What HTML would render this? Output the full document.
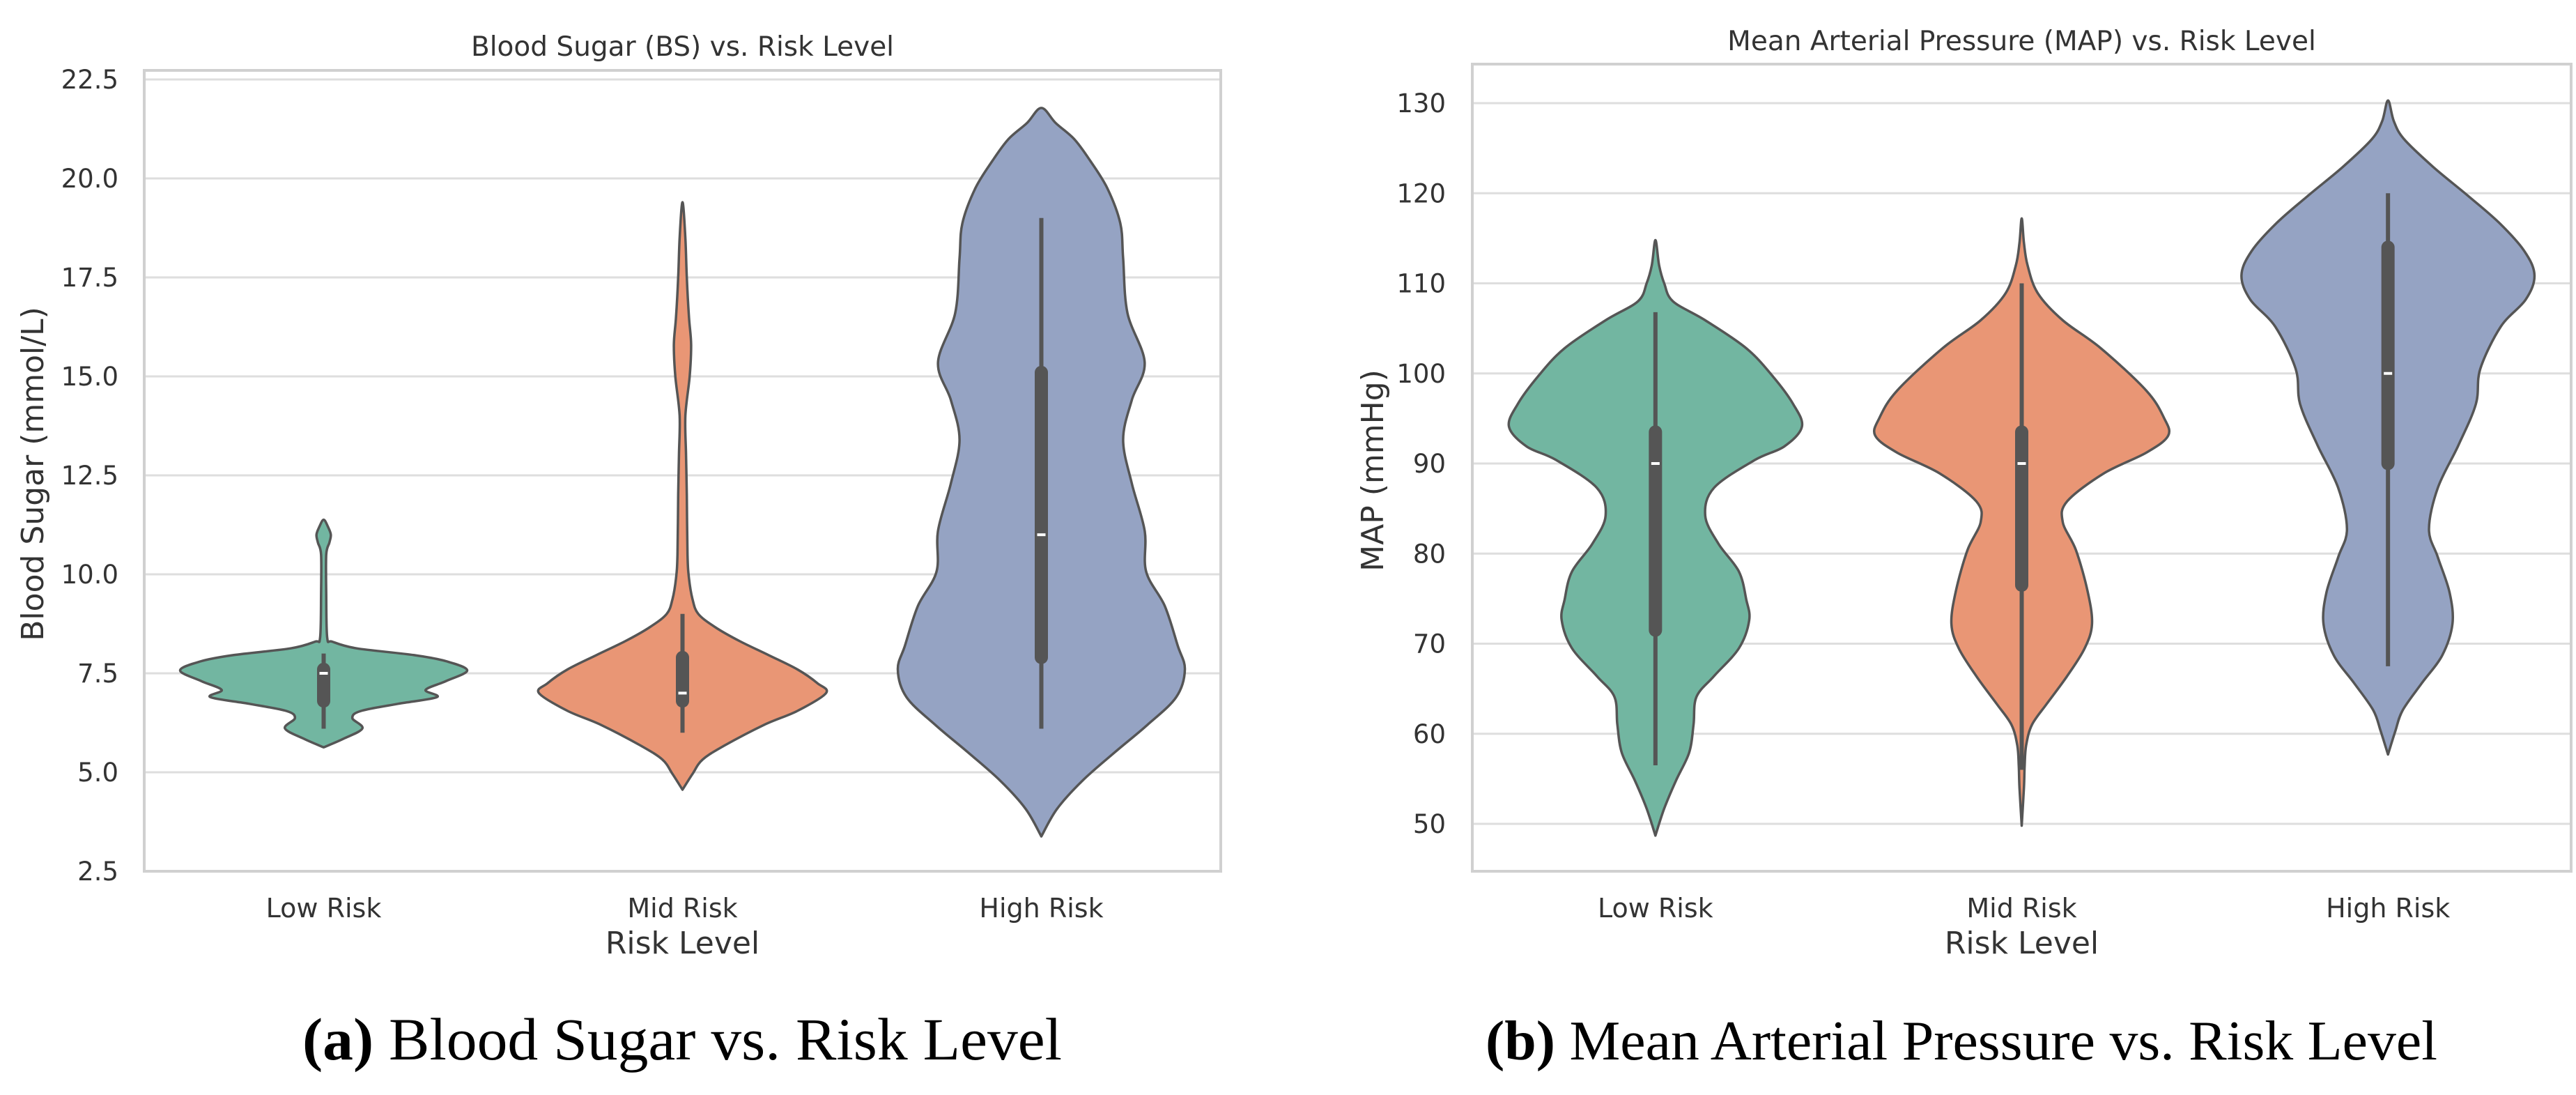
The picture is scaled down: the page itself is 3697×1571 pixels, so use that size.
<!DOCTYPE html>
<html><head><meta charset="utf-8"><style>
html,body{margin:0;padding:0;background:#fff;}
svg{display:block;}
</style></head><body>
<svg id="fig" width="3697" height="1571" viewBox="0 0 3697 1571" xmlns="http://www.w3.org/2000/svg">
<rect x="0" y="0" width="3697" height="1571" fill="#fff"/>
</svg>
<script>
// ---- Data: Blood Sugar chart ----
const categories = ["Low Risk", "Mid Risk", "High Risk"];
const bsTicks = [2.5, 5.0, 7.5, 10.0, 12.5, 15.0, 17.5, 20.0, 22.5];
const mapTicks = [50, 60, 70, 80, 90, 100, 110, 120, 130];
// density profiles: [value, relative half-width]
const bsLowDensity = [[5.63,0],[5.85,0.14],[6.11,0.27],[6.37,0.2],[6.55,0.26],[6.73,0.52],[6.9,0.79],[7.08,0.71],[7.3,0.85],[7.57,1.0],[7.8,0.86],[7.96,0.63],[8.13,0.23],[8.3,0.06],[8.4,0.025],[9.5,0.018],[10.5,0.018],[10.8,0.04],[11.0,0.05],[11.2,0.03],[11.38,0]];
const bsMidDensity = [[4.56,0],[4.96,0.07],[5.32,0.14],[5.67,0.29],[6.2,0.57],[6.55,0.8],[7.0,1.0],[7.25,0.94],[7.6,0.8],[7.96,0.6],[8.31,0.4],[8.66,0.23],[9.0,0.11],[9.37,0.07],[9.9,0.045],[10.5,0.035],[12,0.03],[13,0.025],[14,0.02],[15,0.05],[15.8,0.06],[16.5,0.045],[17.5,0.03],[18.5,0.02],[19.4,0]];
const bsHighDensity = [[3.38,0],[4.08,0.11],[4.8,0.29],[5.5,0.51],[6.2,0.74],[6.9,0.94],[7.6,1.0],[8.2,0.95],[9.2,0.86],[10.07,0.73],[11.1,0.72],[12.3,0.63],[13.4,0.57],[14.4,0.63],[15.35,0.72],[16.6,0.6],[17.98,0.57],[18.87,0.55],[19.75,0.46],[20.45,0.34],[20.99,0.23],[21.4,0.1],[21.78,0]];
// box stats: [whiskerLow, q1, median, q3, whiskerHigh]
const bsBoxLow = [6.1, 6.8, 7.5, 7.6, 8.0];
const bsBoxMid = [6.0, 6.8, 7.0, 7.9, 9.0];
const bsBoxHigh = [6.1, 7.9, 11.0, 15.1, 19.0];
// ---- Data: MAP chart ----
const mapLowDensity = [[48.7,0],[51.7,0.06],[54.8,0.14],[57.9,0.23],[61.0,0.26],[64.1,0.28],[66.4,0.4],[69.5,0.57],[72.6,0.64],[74.9,0.62],[78,0.57],[81.1,0.43],[84.2,0.34],[87.3,0.4],[90.4,0.68],[91.9,0.88],[94.1,1.0],[96.6,0.94],[99.7,0.8],[102.8,0.62],[105.9,0.34],[108,0.12],[110,0.06],[112,0.025],[114.8,0]];
const mapMidDensity = [[49.8,0],[54,0.015],[56.4,0.02],[58.7,0.03],[61,0.07],[63.3,0.17],[66.4,0.31],[69.5,0.43],[72.2,0.48],[75.8,0.45],[80.4,0.37],[83.5,0.28],[85.8,0.31],[88.9,0.56],[91.2,0.85],[93.1,1.0],[95.1,0.97],[98.1,0.85],[102.8,0.54],[105.9,0.28],[108.9,0.11],[112,0.04],[114.5,0.015],[117.2,0]];
const mapHighDensity = [[57.7,0],[60.3,0.05],[62.6,0.1],[65.6,0.23],[68.7,0.37],[72.2,0.44],[75.7,0.42],[79.6,0.34],[82.7,0.28],[87.3,0.34],[92,0.48],[96.6,0.6],[100.5,0.63],[105.2,0.77],[108.2,0.94],[110.9,1.0],[113.6,0.93],[116.7,0.76],[119.8,0.54],[122.9,0.31],[126,0.11],[128,0.04],[130.3,0]];
const mapBoxLow = [56.5, 71.5, 90, 93.5, 106.8];
const mapBoxMid = [56.0, 76.5, 90, 93.5, 110];
const mapBoxHigh = [67.5, 90, 100, 114, 120];

const NS = "http://www.w3.org/2000/svg";
const svg = document.getElementById("fig");
const colors = ["#72b6a1", "#e99675", "#95a3c3"];
function mk(tag, attrs, parent) {
  const e = document.createElementNS(NS, tag);
  for (const k in attrs) e.setAttribute(k, attrs[k]);
  (parent || svg).appendChild(e);
  return e;
}
function spline(pts) {
  let d = "M" + pts[0][0].toFixed(1) + "," + pts[0][1].toFixed(1);
  for (let i = 0; i < pts.length - 1; i++) {
    const p0 = pts[Math.max(0, i - 1)], p1 = pts[i], p2 = pts[i + 1], p3 = pts[Math.min(pts.length - 1, i + 2)];
    const t = 1 / 6;
    const c1 = [p1[0] + (p2[0] - p0[0]) * t, p1[1] + (p2[1] - p0[1]) * t];
    const c2 = [p2[0] - (p3[0] - p1[0]) * t, p2[1] - (p3[1] - p1[1]) * t];
    d += "C" + c1[0].toFixed(1) + "," + c1[1].toFixed(1) + " " + c2[0].toFixed(1) + "," + c2[1].toFixed(1) + " " + p2[0].toFixed(1) + "," + p2[1].toFixed(1);
  }
  return d;
}
function chart(cfg) {
  const g = mk("g", {});
  
  
  const {x0, x1, y0, y1, vmin, vmax} = cfg;
  const yS = v => y1 - (v - vmin) / (vmax - vmin) * (y1 - y0);
  const band = (x1 - x0) / categories.length;
  const xS = i => x0 + band * (i + 0.5);
  cfg.ticks.forEach(t => {
    const ln = mk("line", {x1: x0, x2: x1, y1: yS(t), y2: yS(t), stroke: "#dedede", "stroke-width": 3}, g);
    
    
    const tx = mk("text", {x: cfg.tickX, y: yS(t) + 13, "text-anchor": "end", "font-size": 37, fill: "#333", "font-family": "DejaVu Sans, Liberation Sans, sans-serif"}, g);
    tx.textContent = cfg.tickFmt(t);
    
    
  });
  cfg.densities.forEach((dens, i) => {
    const cx = xS(i), hw = band * 0.4;
    const right = dens.map(p => [cx + p[1] * hw, yS(p[0])]);
    const left = dens.slice().reverse().map(p => [cx - p[1] * hw, yS(p[0])]);
    const pts = right.concat(left.slice(1));
    const path = mk("path", {d: spline(pts) + "Z", fill: colors[i], stroke: "#555", "stroke-width": 3.5, "stroke-linejoin": "round"}, g);
    
    
    const b = cfg.boxes[i];
    const wh = mk("line", {x1: cx, x2: cx, y1: yS(b[0]), y2: yS(b[4]), stroke: "#555", "stroke-width": 6}, g);
    
    
    const bx = mk("line", {x1: cx, x2: cx, y1: yS(b[1]), y2: yS(b[3]), stroke: "#555", "stroke-width": 19, "stroke-linecap": "round"}, g);
    
    
    const md = mk("line", {x1: cx - 6, x2: cx + 6, y1: yS(b[2]), y2: yS(b[2]), stroke: "#fff", "stroke-width": 4}, g);
    
    
    const xl = mk("text", {x: cx, y: 1316, "text-anchor": "middle", "font-size": 38, fill: "#333", "font-family": "DejaVu Sans, Liberation Sans, sans-serif"}, g);
    xl.textContent = categories[i];
    
    
  });
  const fr = mk("rect", {x: x0, y: cfg.top, width: x1 - x0, height: cfg.bottom - cfg.top, fill: "none", stroke: "#d0d0d0", "stroke-width": 4}, g);
  
  
  const ti = mk("text", {x: (x0 + x1) / 2, y: cfg.titleY, "text-anchor": "middle", "font-size": 39, fill: "#333", "font-family": "DejaVu Sans, Liberation Sans, sans-serif"}, g);
  ti.textContent = cfg.title;
  
  
  const xt = mk("text", {x: (x0 + x1) / 2, y: 1368, "text-anchor": "middle", "font-size": 44, fill: "#333", "font-family": "DejaVu Sans, Liberation Sans, sans-serif"}, g);
  xt.textContent = "Risk Level";
  
  
  const yt = mk("text", {x: 0, y: 0, transform: "translate(" + cfg.yLabelX + "," + cfg.yLabelY + ") rotate(-90)", "text-anchor": "middle", "font-size": 44, fill: "#333", "font-family": "DejaVu Sans, Liberation Sans, sans-serif"}, g);
  yt.textContent = cfg.yLabel;
  
  
  const cap = mk("text", {x: cfg.capX, y: 1520, "text-anchor": "middle", "font-size": cfg.capSize, fill: "#000", "font-family": "Liberation Serif, serif", textLength: cfg.capW, lengthAdjust: "spacingAndGlyphs"}, g);
  const bt = mk("tspan", {"font-weight": "bold"}, cap);
  bt.textContent = cfg.capBold;
  const rt = mk("tspan", {}, cap);
  rt.textContent = " " + cfg.capText;
  
  
}
chart({name: "blood-sugar-chart", x0: 207, x1: 1752, top: 101, bottom: 1250, y0: 1250 - 20 * 56.8, y1: 1250, vmin: 2.5, vmax: 22.5,
  ticks: bsTicks, tickX: 170, tickFmt: t => t.toFixed(1), densities: [bsLowDensity, bsMidDensity, bsHighDensity],
  boxes: [bsBoxLow, bsBoxMid, bsBoxHigh], title: "Blood Sugar (BS) vs. Risk Level", titleY: 80,
  yLabel: "Blood Sugar (mmol/L)", yLabelX: 62, yLabelY: 680, capX: 979, capW: 1090, capSize: 86, capBold: "(a)", capText: "Blood Sugar vs. Risk Level"});
chart({name: "map-chart", x0: 2113, x1: 3690, top: 92, bottom: 1250, y0: 148, y1: 1182, vmin: 50, vmax: 130,
  ticks: mapTicks, tickX: 2075, tickFmt: t => String(t), densities: [mapLowDensity, mapMidDensity, mapHighDensity],
  boxes: [mapBoxLow, mapBoxMid, mapBoxHigh], title: "Mean Arterial Pressure (MAP) vs. Risk Level", titleY: 72,
  yLabel: "MAP (mmHg)", yLabelX: 1985, yLabelY: 675, capX: 2815, capW: 1366, capSize: 80, capBold: "(b)", capText: "Mean Arterial Pressure vs. Risk Level"});
</script>
</body></html>
